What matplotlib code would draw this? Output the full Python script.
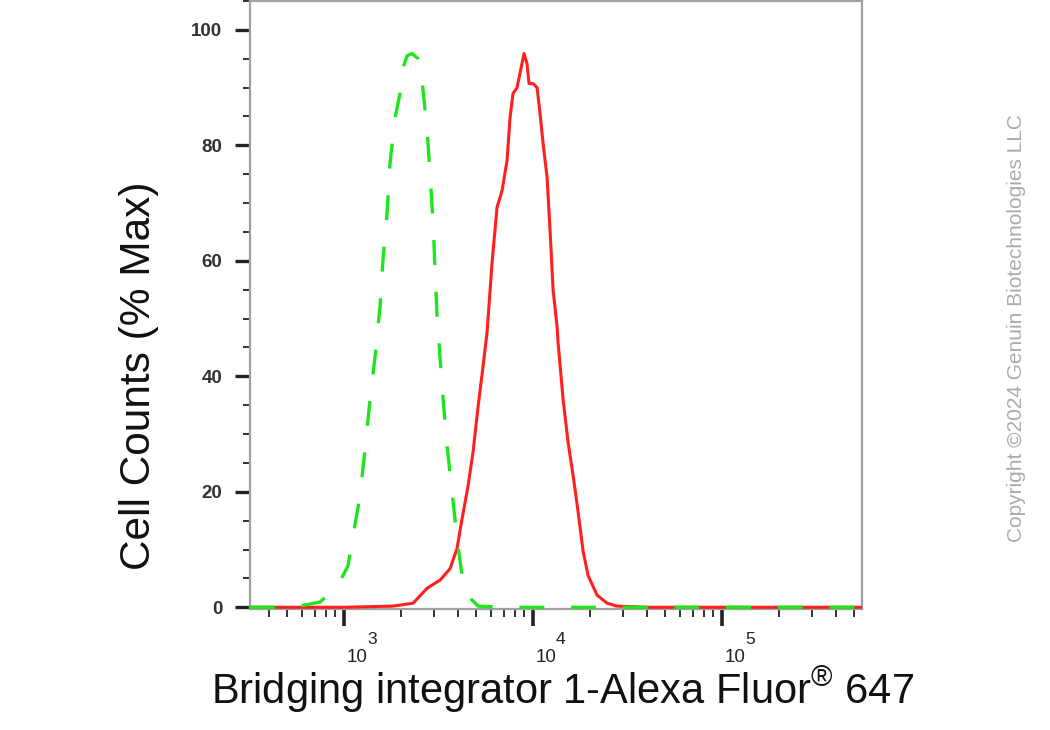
import matplotlib
matplotlib.use('Agg')
import matplotlib.pyplot as plt
from matplotlib import font_manager
from matplotlib.ticker import FixedLocator, NullFormatter, LogLocator

# ---------------- data ----------------
red_x = [318, 1000, 1815, 2318, 2750, 3221, 3639, 3961, 4210, 4529, 4816, 5120,
         5437, 5710, 6070, 6450, 6860, 7285, 7555, 7836, 8230, 8640, 8960, 9290,
         9525, 10000, 10500, 10890, 11300, 11860, 12300, 12760, 13400, 13560,
         14420, 15320, 16290, 17300, 18400, 19550, 21810, 24660, 27800, 40000,
         550000]
red_y = [0, 0, 0.2, 0.7, 3.3, 4.7, 6.7, 10.2, 15.3, 21.0, 26.9, 34.8,
         41.7, 47.6, 59.7, 69.3, 72.2, 77.4, 84.8, 89.0, 90.0, 93.4, 95.9, 94.1,
         90.7, 90.7, 90.0, 85.5, 80.3, 74.5, 65.3, 55.0, 48.6, 45.9,
         36.0, 28.6, 22.8, 16.6, 9.7, 5.5, 2.1, 0.7, 0.2, 0,
         0]

green_x = [318, 500, 600, 747, 929, 1050, 1103, 1215, 1291, 1373, 1459, 1550,
           1607, 1689, 1751, 1862, 1978, 2051, 2153, 2290, 2465, 2588, 2750,
           2851, 2958, 3106, 3343, 3509, 3726, 3961, 4210, 4642, 5120, 7000,
           550000]
green_y = [0, 0, 0.3, 0.9, 3.8, 7.2, 11.4, 19.3, 27.4, 36.0, 43.4, 52.1,
           60.2, 68.3, 76.9, 84.8, 89.0, 93.4, 95.5, 95.9, 95.0, 91.2, 82.6,
           75.2, 66.6, 50.3, 36.0, 27.9, 20.0, 11.9, 5.5, 1.6, 0.2, 0,
           0]

y_major = [0, 20, 40, 60, 80, 100]
y_minor = [5, 10, 15, 25, 30, 35, 45, 50, 55, 65, 70, 75, 85, 90, 95, 105]
x_major = [1e3, 1e4, 1e5]
x_exponents = ['3', '4', '5']

x_title = r'Bridging integrator 1-Alexa Fluor$^{\circledR}$ 647'
y_title = 'Cell Counts (% Max)'
copyright_text = 'Copyright \u00a92024 Genuin Biotechnologies LLC'


def has_font(name):
    try:
        font_manager.findfont(font_manager.FontProperties(family=name),
                              fallback_to_default=False)
        return True
    except Exception:
        return False


plt.rcParams['font.family'] = ['Liberation Sans', 'DejaVu Sans']
plt.rcParams['mathtext.fontset'] = 'custom'
plt.rcParams['mathtext.rm'] = 'Liberation Sans'
plt.rcParams['mathtext.it'] = 'Liberation Sans:italic'
plt.rcParams['mathtext.bf'] = 'Liberation Sans:bold'

narrow = has_font('Liberation Sans Narrow')
tick_family = ['Liberation Sans Narrow'] if narrow else ['Liberation Sans']
base_size = 15.0 if narrow else 13.5
exp_size = 14.0 if narrow else 12.5
exp_dx = 14.5 if narrow else 16.5

fig = plt.figure(figsize=(10.5, 7.3), dpi=100)
ax = fig.add_axes([250 / 1050, 1 - 609 / 730, 612 / 1050, 608 / 730])

ax.plot(red_x, red_y, color='#ff1f1f', lw=2.2, zorder=3, solid_joinstyle='round')
ax.plot(green_x, green_y, color='#1ee61e', lw=2.4, zorder=4,
        linestyle=(0, (7.5, 8.0)))

ax.set_xscale('log')
ax.set_xlim(318, 5.5e5)
ax.set_ylim(-0.3, 105)

for s in ax.spines.values():
    s.set_color('#a0a0a0')
    s.set_linewidth(1.6)

# y ticks
ax.yaxis.set_major_locator(FixedLocator(y_major))
ax.yaxis.set_minor_locator(FixedLocator(y_minor))
ax.tick_params(axis='y', which='major', direction='out', length=11, width=2.4,
               color='#222222', pad=9, labelsize=13.5, labelcolor='#333333')
ax.tick_params(axis='y', which='minor', direction='out', length=5, width=1.3,
               color='#222222')
for lab in ax.get_yticklabels():
    lab.set_fontweight('bold')

# x ticks
ax.xaxis.set_major_locator(FixedLocator(x_major))
ax.xaxis.set_minor_locator(LogLocator(base=10, subs=[2, 3, 4, 5, 6, 7, 8, 9]))
ax.xaxis.set_major_formatter(NullFormatter())
ax.xaxis.set_minor_formatter(NullFormatter())
ax.tick_params(axis='x', which='major', direction='out', length=12, width=2.6,
               color='#222222')
ax.tick_params(axis='x', which='minor', direction='out', length=6, width=1.3,
               color='#222222')

# x tick labels: "10" with a near full-size exponent, as in the reference
for v, e in zip(x_major, x_exponents):
    ax.annotate('10', xy=(v, 0), xycoords=('data', 'axes fraction'),
                xytext=(1.5, -38.5), textcoords='offset points',
                ha='left', va='baseline', fontsize=base_size,
                family=tick_family, color='#222222', annotation_clip=False)
    ax.annotate(e, xy=(v, 0), xycoords=('data', 'axes fraction'),
                xytext=(exp_dx, -25.5), textcoords='offset points',
                ha='left', va='baseline', fontsize=exp_size,
                family=tick_family, color='#222222', annotation_clip=False)

ax.set_xlabel(x_title, fontsize=30, va='center', color='#111111')
ax.xaxis.set_label_coords(0.51, -0.133)
ax.set_ylabel(y_title, fontsize=30.5, va='center', color='#111111')
ax.yaxis.set_label_coords(-0.181, 0.384)

fig.text(1017 / 1050, 1 - 328 / 730, copyright_text, rotation=90,
         fontsize=15, color='#ababab', ha='center', va='center')

fig.savefig('out.png', dpi=100)
